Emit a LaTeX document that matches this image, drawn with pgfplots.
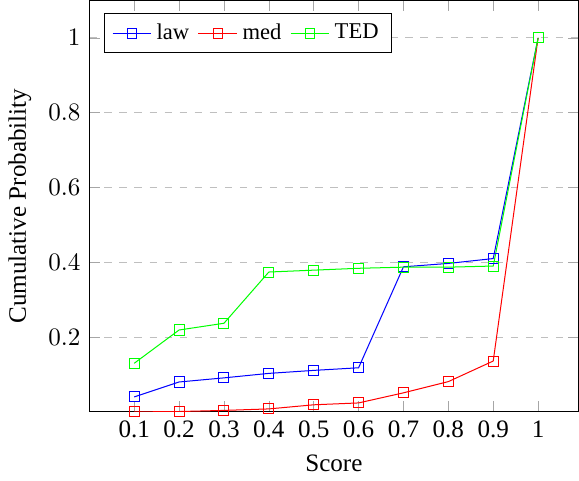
\documentclass[border=0pt]{standalone}
\usepackage{fontspec}
\setmainfont{Liberation Serif}
\usepackage{pgfplots}
\pgfplotsset{compat=1.18}

\begin{document}
\begin{tikzpicture}
  \begin{axis}[
    scale only axis,
    width=195pt, height=164pt,
    xmin=0, xmax=1.09, ymin=0, ymax=1.1,
    xtick={0.1,0.2,0.3,0.4,0.5,0.6,0.7,0.8,0.9,1},
    xticklabels={0.1,0.2,0.3,0.4,0.5,0.6,0.7,0.8,0.9,1},
    ytick={0.2,0.4,0.6,0.8,1},
    xlabel={Score}, ylabel={Cumulative Probability},
    ymajorgrids, grid style={dashed, gray!50},
    major tick style={gray!70},
    legend pos=north west,
    legend columns=-1,
    legend image post style={xscale=0.9},
    legend style={font=\small,
      /tikz/every even column/.append style={column sep=1.5pt}}
  ]
  \addplot[blue, mark=square] coordinates {
    (0.1,0.040)(0.2,0.080)(0.3,0.091)(0.4,0.103)(0.5,0.111)
    (0.6,0.118)(0.7,0.388)(0.8,0.397)(0.9,0.410)(1,1)};
  \addplot[red, mark=square] coordinates {
    (0.1,0.000)(0.2,0.001)(0.3,0.004)(0.4,0.008)(0.5,0.019)
    (0.6,0.024)(0.7,0.051)(0.8,0.081)(0.9,0.136)(1,1)};
  \addplot[green, mark=square] coordinates {
    (0.1,0.130)(0.2,0.219)(0.3,0.237)(0.4,0.374)(0.5,0.379)
    (0.6,0.384)(0.7,0.387)(0.8,0.387)(0.9,0.390)(1,1)};
  \legend{law, med, TED}
  \end{axis}
\end{tikzpicture}
\end{document}
